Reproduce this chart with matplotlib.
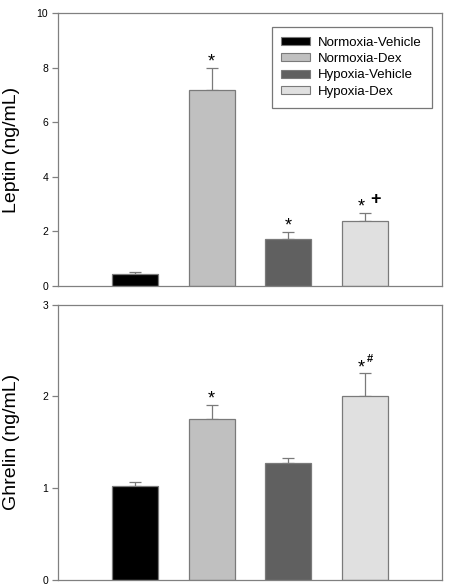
import matplotlib
matplotlib.use("Agg")
import matplotlib.pyplot as plt
from matplotlib.patches import Patch

plt.rcParams['font.family'] = ['Liberation Sans', 'DejaVu Sans']

groups = ["Normoxia-Vehicle", "Normoxia-Dex", "Hypoxia-Vehicle", "Hypoxia-Dex"]
colors = ["#000000", "#c0c0c0", "#606060", "#e0e0e0"]

leptin = [0.43, 7.17, 1.73, 2.38]
leptin_err = [0.07, 0.84, 0.24, 0.31]
leptin_star = ["", "*", "*", "*"]
leptin_extra = ["", "", "", "+"]

ghrelin = [1.02, 1.75, 1.27, 2.00]
ghrelin_err = [0.05, 0.155, 0.06, 0.25]
ghrelin_star = ["", "*", "", "*"]
ghrelin_extra = ["", "", "", "#"]

W, H = 451, 588
fig = plt.figure(figsize=(W/100, H/100), dpi=100)

def ax_rect(l, t, r, b):
    return [l/W, 1 - b/H, (r-l)/W, (b-t)/H]

ax1 = fig.add_axes(ax_rect(58, 13.3, 442, 286))
ax2 = fig.add_axes(ax_rect(58, 304.7, 442, 579.7))

x = [1, 2, 3, 4]
spine_c = "#808080"

def style(ax, ymax, ticks, label):
    ax.set_xlim(0, 5)
    ax.set_ylim(0, ymax)
    ax.set_yticks(ticks)
    ax.set_yticklabels([str(t) for t in ticks], fontsize=7.5)
    ax.set_xticks([])
    for s in ax.spines.values():
        s.set_color(spine_c)
        s.set_linewidth(0.9)
    ax.tick_params(axis='y', direction='out', length=4, color=spine_c, width=0.9, pad=3)
    ax.set_ylabel(label, fontsize=14)
    ax.yaxis.set_label_coords(-0.099, 0.5)

def draw(ax, vals, errs, stars, extras, extra_dx, extra_dy, extra_fs):
    ax.bar(x, vals, width=0.6, color=colors, edgecolor="#7a7a7a", linewidth=0.9, zorder=2)
    ax.errorbar(x, vals, yerr=[[0]*4, errs], fmt='none', ecolor="#7a7a7a",
                elinewidth=0.9, capsize=4, capthick=0.9, zorder=1)
    for xi, v, e, s, ex in zip(x, vals, errs, stars, extras):
        top = v + e
        sdx = -2.5 if ex else 0
        if s:
            ax.annotate(s, (xi, top), xytext=(sdx, 1), textcoords='offset points',
                        ha='center', va='baseline', fontsize=13)
        if ex:
            ax.annotate(ex, (xi, top), xytext=(extra_dx, extra_dy), textcoords='offset points',
                        ha='center', va='baseline', fontsize=extra_fs, fontweight='bold')

style(ax1, 10, [0, 2, 4, 6, 8, 10], "Leptin (ng/mL)")
draw(ax1, leptin, leptin_err, leptin_star, leptin_extra, 7.5, 6.5, 13)
style(ax2, 3, [0, 1, 2, 3], "Ghrelin (ng/mL)")
draw(ax2, ghrelin, ghrelin_err, ghrelin_star, ghrelin_extra, 3.5, 8.5, 8)

handles = [Patch(facecolor=c, edgecolor="#7a7a7a", linewidth=0.8) for c in colors]
leg = ax1.legend(handles, groups, loc='upper right', bbox_to_anchor=(0.974, 0.951),
                 borderaxespad=0, fontsize=9.5, frameon=True, fancybox=False,
                 handlelength=2.2, handleheight=0.55, borderpad=0.75, labelspacing=0.33,
                 handletextpad=0.6)
leg.get_frame().set_edgecolor("#555555")
leg.get_frame().set_linewidth(0.9)

fig.savefig("out.png", dpi=100)
